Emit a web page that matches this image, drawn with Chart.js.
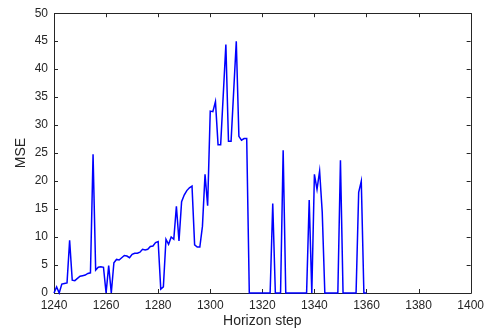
<!DOCTYPE html>
<html>
<head>
<meta charset="utf-8">
<title>MSE by horizon step</title>
<script src="https://cdn.jsdelivr.net/npm/chart.js@4.4.1/dist/chart.umd.min.js"></script>
<style>
    html, body { margin: 0; padding: 0; background: #ffffff; }
    canvas { display: block; }
</style>
</head>
<body>
<canvas id="mseChart" width="489" height="333"></canvas>
<script>
// Values (horizon step -> MSE)
const horizonSteps = [
    1240, 1241, 1242, 1243, 1244, 1245, 1246, 1247, 1248, 1250,
    1251, 1252, 1253, 1254, 1255, 1256, 1257, 1258, 1259, 1260,
    1261, 1262, 1263, 1264, 1265, 1266, 1267, 1268, 1269, 1270,
    1271, 1272, 1273, 1274, 1275, 1276, 1277, 1278, 1279, 1280,
    1281, 1282, 1283, 1284, 1285, 1286, 1287, 1288, 1289, 1290,
    1291, 1292, 1293, 1294, 1295, 1296, 1297, 1298, 1299, 1300,
    1301, 1302, 1303, 1304, 1306, 1307, 1308, 1310, 1311, 1312,
    1313, 1314, 1315, 1323, 1324, 1325, 1327, 1328, 1329, 1337,
    1338, 1339, 1340, 1341, 1342, 1343, 1344, 1349, 1350, 1351,
    1356, 1357, 1358, 1359, 1360
];
const mseValues = [
    0, 1.1, 0, 1.6, 1.7, 1.8, 9.4, 2.3, 2.2, 3.0,
    3.1, 3.2, 3.5, 3.6, 24.8, 4.1, 4.6, 4.7, 4.6, 0,
    4.9, 0, 5.4, 6.0, 5.9, 6.3, 6.7, 6.6, 6.3, 6.9,
    7.1, 7.1, 7.3, 7.8, 7.7, 7.8, 8.3, 8.4, 9.0, 9.2,
    0.7, 1.1, 9.6, 8.7, 10.0, 9.6, 15.5, 9.3, 16.3, 17.5,
    18.3, 18.8, 19.1, 8.6, 8.2, 8.2, 11.9, 21.2, 15.6, 32.5,
    32.4, 34.2, 26.5, 26.5, 44.4, 27.1, 27.1, 45.0, 28.0, 27.3,
    27.6, 27.6, 0, 0, 16.0, 0, 0, 25.5, 0, 0,
    16.6, 0, 21.2, 18.5, 21.8, 14.5, 0, 0, 23.7, 0,
    0, 18.0, 20.0, 0, 0
];

// Axis ranges / tick spacing
const xRange = [1240, 1400];
const yRange = [0, 50];
const xStep = 20;
const yStep = 5;

const axisColor = '#262626';
const tickFont = { family: "'Liberation Sans', Arial, sans-serif", size: 12 };
const titleFont = { family: "'Liberation Sans', Arial, sans-serif", size: 14 };

// MATLAB style box with inward tick marks on all four sides
const boxAxes = {
    id: 'boxAxes',
    beforeDatasetsDraw(chart) {
        const { ctx, chartArea: a, scales } = chart;
        const len = 4;
        ctx.save();
        ctx.strokeStyle = axisColor;
        ctx.lineWidth = 1;
        ctx.beginPath();
        ctx.rect(Math.round(a.left) + 0.5, Math.round(a.top) + 0.5,
                 Math.round(a.right - a.left), Math.round(a.bottom - a.top));
        scales.x.ticks.forEach(t => {
            const px = Math.round(scales.x.getPixelForValue(t.value)) + 0.5;
            ctx.moveTo(px, a.bottom); ctx.lineTo(px, a.bottom - len);
            ctx.moveTo(px, a.top); ctx.lineTo(px, a.top + len);
        });
        scales.y.ticks.forEach(t => {
            const py = Math.round(scales.y.getPixelForValue(t.value)) + 0.5;
            ctx.moveTo(a.left, py); ctx.lineTo(a.left + len, py);
            ctx.moveTo(a.right, py); ctx.lineTo(a.right - len, py);
        });
        ctx.stroke();
        ctx.restore();
    }
};

const ctx = document.getElementById('mseChart').getContext('2d');
const mseChart = new Chart(ctx, {
    type: 'line',
    data: {
        datasets: [{
            label: 'MSE',
            data: horizonSteps.map((s, i) => ({ x: s, y: mseValues[i] })),
            borderColor: '#0000ff',
            borderWidth: 1.5,
            pointRadius: 0,
            tension: 0,
            fill: false,
            clip: false
        }]
    },
    options: {
        responsive: false,
        animation: false,
        layout: { padding: { left: 0, right: 18, top: 11, bottom: 0 } },
        plugins: {
            legend: { display: false },
            tooltip: { enabled: false }
        },
        scales: {
            x: {
                type: 'linear',
                min: xRange[0],
                max: xRange[1],
                grid: { display: false, drawTicks: false },
                border: { display: false },
                ticks: {
                    stepSize: xStep,
                    color: axisColor,
                    font: tickFont,
                    padding: 5,
                    maxRotation: 0,
                    callback: v => String(v)
                },
                title: {
                    display: true,
                    text: 'Horizon step',
                    color: axisColor,
                    font: titleFont,
                    padding: { top: 0, bottom: 3 }
                },
                afterFit(scale) { scale.height = 40; }
            },
            y: {
                type: 'linear',
                min: yRange[0],
                max: yRange[1],
                grid: { display: false, drawTicks: false },
                border: { display: false },
                ticks: {
                    stepSize: yStep,
                    color: axisColor,
                    font: tickFont,
                    padding: 6,
                    callback: v => String(v)
                },
                title: {
                    display: true,
                    text: 'MSE',
                    color: axisColor,
                    font: titleFont,
                    padding: { top: 13, bottom: 0 }
                },
                afterFit(scale) { scale.width = 54; }
            }
        }
    },
    plugins: [boxAxes]
});
</script>
</body>
</html>
